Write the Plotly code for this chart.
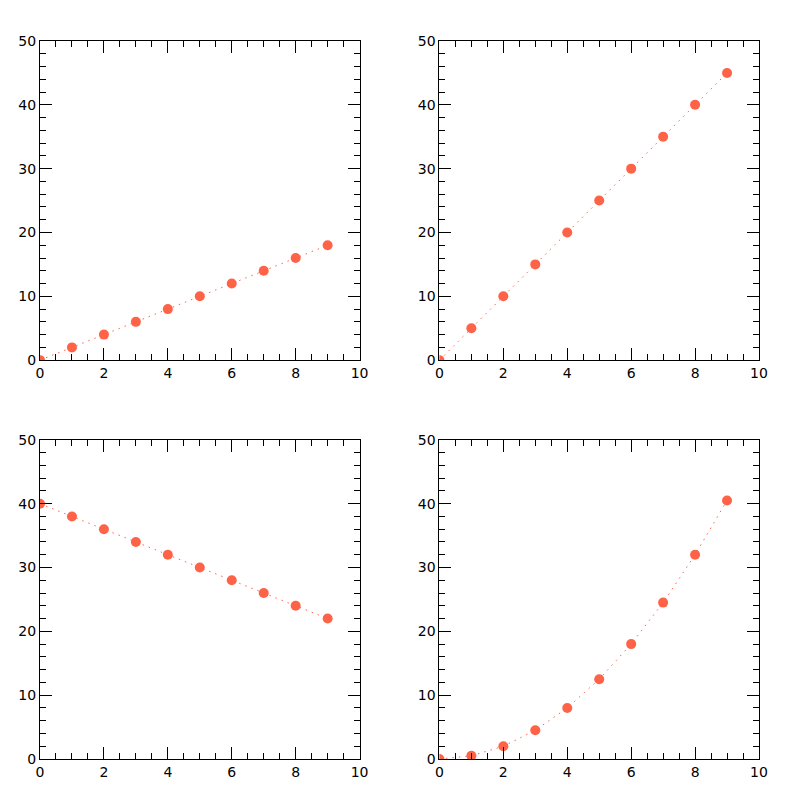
import plotly.graph_objects as go
from plotly.subplots import make_subplots

x = [0, 1, 2, 3, 4, 5, 6, 7, 8, 9]
y_linear = [0, 2, 4, 6, 8, 10, 12, 14, 16, 18]
y_steep = [0, 5, 10, 15, 20, 25, 30, 35, 40, 45]
y_decreasing = [40, 38, 36, 34, 32, 30, 28, 26, 24, 22]
y_quadratic = [0, 0.5, 2, 4.5, 8, 12.5, 18, 24.5, 32, 40.5]

color = "#ff6347"

fig = make_subplots(rows=2, cols=2, horizontal_spacing=0.111, vertical_spacing=0.111)

series = [(1, 1, y_linear), (1, 2, y_steep), (2, 1, y_decreasing), (2, 2, y_quadratic)]
for r, c, ys in series:
    fig.add_trace(go.Scatter(
        x=x, y=ys, mode="lines+markers",
        line=dict(color=color, width=1, dash="1.5px,5px"),
        marker=dict(color=color, size=10),
        showlegend=False,
    ), row=r, col=c)

axis_common = dict(
    showgrid=False, zeroline=False, showline=True, linecolor="black", linewidth=1,
    mirror="ticks", ticks="inside", tickcolor="black", tickwidth=1, ticklen=12,
    tickfont=dict(family="DejaVu Sans", size=14, color="black"),
    automargin=False,
)
fig.update_xaxes(range=[0, 10], dtick=2, tick0=0,
                 minor=dict(ticks="inside", dtick=0.5, ticklen=6, tickcolor="black", tickwidth=1),
                 **axis_common)
fig.update_yaxes(range=[0, 50], dtick=10, tick0=0,
                 minor=dict(ticks="inside", dtick=2, ticklen=6, tickcolor="black", tickwidth=1),
                 **axis_common)

fig.update_layout(
    width=800, height=800,
    margin=dict(l=32, r=49, t=33, b=49),
    plot_bgcolor="white", paper_bgcolor="white",
)

fig.write_html("out.html")
